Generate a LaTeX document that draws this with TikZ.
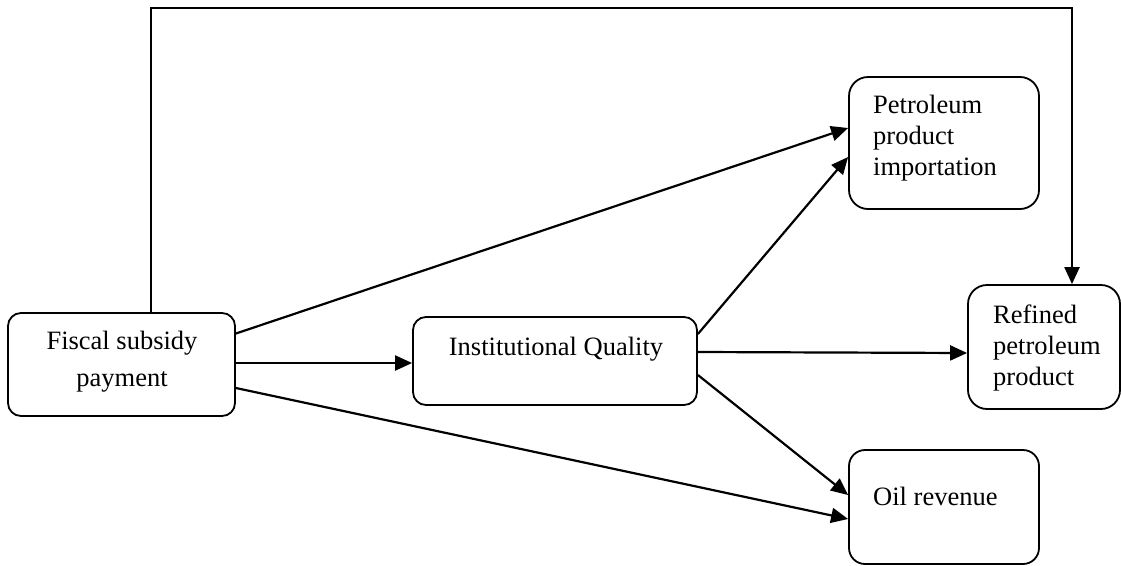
\documentclass[tikz,border=0pt]{standalone}
\usepackage{fontspec}
\setmainfont{Liberation Serif}
\usetikzlibrary{arrows.meta}
\begin{document}
\begin{tikzpicture}[x=1pt,y=-1pt,
  box/.style={draw, line width=1.8pt, rounded corners=#1, inner sep=0pt},
  box/.default=13pt,
  lbl/.style={inner sep=0pt, font=\fontsize{26.5}{31}\selectfont},
  arr/.style={line width=2.2pt, -{Triangle[length=17pt,width=15pt]}}]
\useasboundingbox (0,0) rectangle (1121,565);
% boxes
\node[box, minimum width=227pt, minimum height=103pt] (fsp) at (121.5,364.5) {};
\node[box, minimum width=284pt, minimum height=88pt] (iq) at (555,361) {};
\node[box=19pt, minimum width=190pt, minimum height=132pt] (ppi) at (944,143) {};
\node[box=19pt, minimum width=152pt, minimum height=124pt] (rpp) at (1044,347) {};
\node[box=16pt, minimum width=190pt, minimum height=114pt] (oil) at (944,507) {};
% labels
\node[lbl, align=center, font=\fontsize{26.5}{37}\selectfont] (fspt) at (122,361.5) {Fiscal subsidy\\payment};
\node[lbl, anchor=base] (iqt) at (556,355) {Institutional Quality};
\node[lbl, align=left, anchor=west] (ppit) at (873,138) {Petroleum\\product\\importation};
\node[lbl, align=left, anchor=west] (rppt) at (993,348) {Refined\\petroleum\\product};
\node[lbl, anchor=base west] (oilt) at (873,505) {Oil revenue};
% connectors
\coordinate (topc) at (600,8);
\draw[arr] ([xshift=29.5pt]fsp.north) |- (topc) -| ([xshift=28pt]rpp.north);
\draw[arr] ([yshift=31pt]fsp.east) -- ([yshift=15pt]ppi.west);
\draw[arr] ([yshift=1.5pt]fsp.east) -- ([yshift=-2pt]iq.west);
\draw[arr] ([yshift=-23.5pt]fsp.east) -- ([yshift=-12pt]oil.west);
\draw[arr] ([yshift=27pt]iq.east) -- ([yshift=-14pt]ppi.west);
\draw[arr] ([yshift=9pt]iq.east) -- ([yshift=-6pt]rpp.west);
\draw[arr] ([yshift=-14pt]iq.east) -- ([yshift=12pt]oil.west);
\end{tikzpicture}
\end{document}
